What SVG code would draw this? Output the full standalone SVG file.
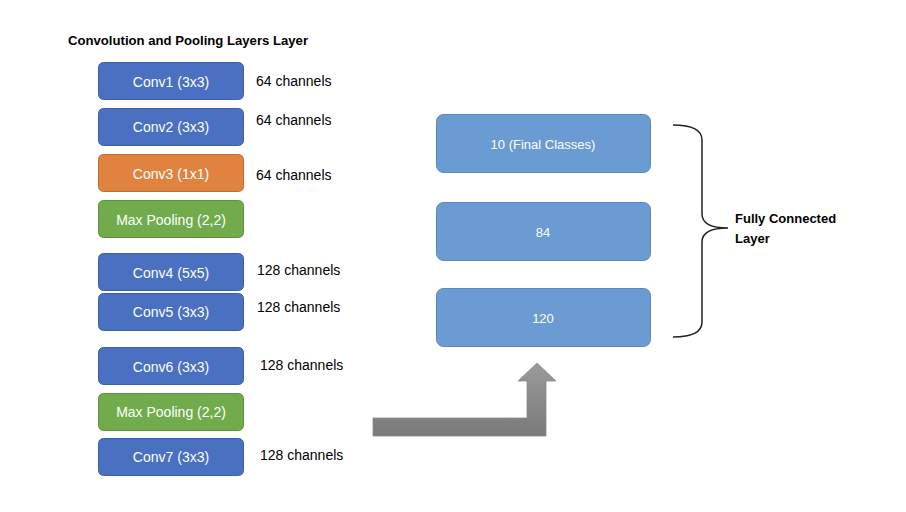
<svg xmlns="http://www.w3.org/2000/svg" width="906" height="512" viewBox="0 0 906 512">
<style>
.b{stroke-width:1}
.blue{fill:#4a70c1;stroke:#3d5fa6}
.orange{fill:#e0833f;stroke:#c06a2c}
.green{fill:#72ab4c;stroke:#5e9239}
.lb{fill:#6a9bd2;stroke:#5a88bd}
.bt{font-family:"Liberation Sans",Arial,sans-serif;font-size:14px;fill:#ffffff;text-anchor:middle;dominant-baseline:central}
.rt{font-family:"Liberation Sans",Arial,sans-serif;font-size:13px;fill:#ffffff;text-anchor:middle;dominant-baseline:central}
.ch{font-family:"Liberation Sans",Arial,sans-serif;font-size:14px;fill:#000000;dominant-baseline:central}
.hd{font-family:"Liberation Sans",Arial,sans-serif;font-size:12.5px;font-weight:bold;fill:#000000}
.fl{font-family:"Liberation Sans",Arial,sans-serif;font-size:13px;font-weight:bold;fill:#000000}
</style>
<defs>
<linearGradient id="ag" x1="0" y1="0" x2="0" y2="1">
<stop offset="0" stop-color="#9a9a9a"/>
<stop offset="1" stop-color="#7a7a7a"/>
</linearGradient>
</defs>
<rect width="906" height="512" fill="#ffffff"/>
<text class="hd" x="68" y="45" textLength="240" lengthAdjust="spacingAndGlyphs">Convolution and Pooling Layers Layer</text>

<g id="conv1"><rect class="b blue" x="98.5" y="62.5" width="145" height="37" rx="5"/><text class="bt" x="171" y="82">Conv1 (3x3)</text></g>
<g id="conv2"><rect class="b blue" x="98.5" y="108.5" width="145" height="37" rx="5"/><text class="bt" x="171" y="127">Conv2 (3x3)</text></g>
<g id="conv3"><rect class="b orange" x="98.5" y="154.5" width="145" height="37" rx="5"/><text class="bt" x="171" y="174">Conv3 (1x1)</text></g>
<g id="pool1"><rect class="b green" x="98.5" y="200.5" width="145" height="37" rx="5"/><text class="bt" x="171" y="220">Max Pooling (2,2)</text></g>
<g id="conv4"><rect class="b blue" x="98.5" y="253.5" width="145" height="37" rx="5"/><text class="bt" x="171" y="273">Conv4 (5x5)</text></g>
<g id="conv5"><rect class="b blue" x="98.5" y="293.5" width="145" height="37" rx="5"/><text class="bt" x="171" y="312">Conv5 (3x3)</text></g>
<g id="conv6"><rect class="b blue" x="98.5" y="347.5" width="145" height="37" rx="5"/><text class="bt" x="171" y="367">Conv6 (3x3)</text></g>
<g id="pool2"><rect class="b green" x="98.5" y="393.5" width="145" height="37" rx="5"/><text class="bt" x="171" y="412">Max Pooling (2,2)</text></g>
<g id="conv7"><rect class="b blue" x="98.5" y="438.5" width="145" height="37" rx="5"/><text class="bt" x="171" y="457">Conv7 (3x3)</text></g>

<g id="channels">
<text class="ch" x="256" y="81">64 channels</text>
<text class="ch" x="256" y="120">64 channels</text>
<text class="ch" x="256" y="175">64 channels</text>
<text class="ch" x="257" y="270">128 channels</text>
<text class="ch" x="257" y="307">128 channels</text>
<text class="ch" x="260" y="365">128 channels</text>
<text class="ch" x="260" y="455">128 channels</text>
</g>

<g id="fc10"><rect class="b lb" x="436.5" y="114.5" width="214" height="58" rx="7"/><text class="rt" x="543" y="144">10 (Final Classes)</text></g>
<g id="fc84"><rect class="b lb" x="436.5" y="202.5" width="214" height="58" rx="7"/><text class="rt" x="543" y="232">84</text></g>
<g id="fc120"><rect class="b lb" x="436.5" y="288.5" width="214" height="58" rx="7"/><text class="rt" x="543" y="318">120</text></g>

<g id="connectors">
<path d="M373,418 L527,418 L527,381 L518,381 L537,363 L556,381 L546,381 L546,436 L373,436 Z" fill="url(#ag)" stroke="#8a8a8a" stroke-width="0.8"/>
<path d="M673,125 Q702,125 702,140 L702,214 Q702,228 728,228 Q702,228 702,242 L702,322 Q702,337 673,337" fill="none" stroke="#222222" stroke-width="1.5"/>
</g>

<g id="fc-label">
<text class="fl" x="735" y="223">Fully Connected</text>
<text class="fl" x="735" y="243">Layer</text>
</g>
</svg>
